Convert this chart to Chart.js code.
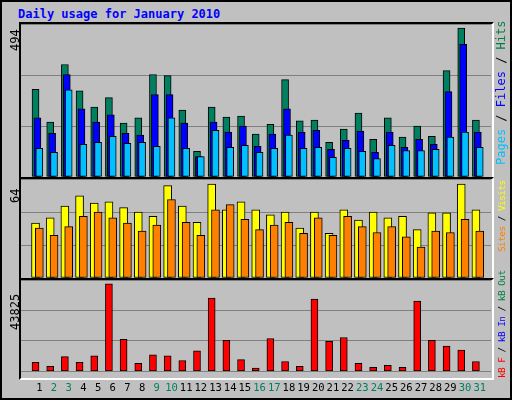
<!DOCTYPE html>
<html>
<head>
<meta charset="utf-8">
<script src="https://cdn.jsdelivr.net/npm/chart.js@4"></script>
<style>
body{margin:0;background:#c0c0c0;font-family:"DejaVu Sans Mono",monospace}
#frame{position:absolute;left:0;top:0;width:508px;height:396px;border:2px solid #000;background:#c0c0c0}
.title{position:absolute;left:18px;top:7px;color:#0000ff;font-weight:bold;font-size:12px}
.panel{position:absolute;left:20px;width:471px}
.box{position:absolute;left:19px;width:471px;border-top:2px solid #000;border-left:2px solid #000;border-right:2px solid #fff;border-bottom:2px solid #fff;pointer-events:none}
.rot{position:absolute;transform-origin:0 0;transform:rotate(-90deg);white-space:nowrap;font-size:12px}
.sm{font-size:9.5px;letter-spacing:-0.6px}
</style>
</head>
<body>
<div id="frame"></div>
<div class="title">Daily usage for January 2010</div>

<div class="panel" style="top:24px;height:153px"><canvas id="c1"></canvas></div>
<div class="panel" style="top:179px;height:99px"><canvas id="c2"></canvas></div>
<div class="panel" style="top:280px;height:118px"><canvas id="c3"></canvas></div>
<div class="box" style="top:22px;height:153px"></div>
<div class="box" style="top:177px;height:99px"></div>
<div class="box" style="top:278px;height:98px"></div>

<div class="rot" style="left:8px;top:51px">494</div>
<div class="rot" style="left:8px;top:203px">64</div>
<div class="rot" style="left:8px;top:330px">43825</div>
<div class="rot" style="left:494px;top:165px"><span style="color:#00c0ff">Pages</span> / <span style="color:#0000ff">Files</span> / <span style="color:#008040">Hits</span></div>
<div class="rot sm" style="left:496px;top:252px"><span style="color:#ff8000">Sites</span> / <span style="color:#ffff00">Visits</span></div>
<div class="rot sm" style="left:496px;top:378px"><span style="color:#ff0000">kB F</span> / <span style="color:#0000ff">kB In</span> / <span style="color:#008040">kB Out</span></div>

<script>
// daily values, January 2010
var days = [1,2,3,4,5,6,7,8,9,10,11,12,13,14,15,16,17,18,19,20,21,22,23,24,25,26,27,28,29,30,31]
var weekend = [2,3,9,10,16,17,23,24,30,31]
var hits  = [291,182,373,286,232,263,179,196,340,336,222,85,232,199,202,142,175,323,186,189,115,159,212,125,196,132,169,135,353,494,189]
var files = [196,145,340,226,182,206,145,139,273,273,179,68,182,149,169,102,142,226,149,155,92,122,152,82,149,98,125,108,283,440,149]
var pages = [95,82,289,108,115,135,112,115,102,196,95,68,155,98,105,82,95,139,95,98,65,95,85,61,105,88,88,92,132,149,98]
var visits = [37.5,41,49,56,51,52,48,45,42,63,49,38,64,46.5,52,46.5,43,45,34,45,30.5,46.5,39.5,45,41,42,33,44.5,44.5,64,46.5]
var sites = [34,29,35,42,45,41,37.5,32,36,53.5,38,29,46.5,50,40,33,36,38,30.5,41,29,42,35,31,35,28,21,32,31,40,32]
var kbytes = [4480,2560,7360,4480,7840,43825,16000,4000,8320,7840,5440,10240,36640,15520,5920,1600,16480,4960,2560,36160,15040,16960,4000,2080,3040,2080,35200,15520,12640,10720,4960]

function pts(arr, shift){
    return arr.map(function(v,i){ return {x: days[i]+shift, y: v} })
}
function bar(label, arr, shift, color, w, order){
    return {label: label, data: pts(arr, shift), backgroundColor: color, borderColor: '#000',
        borderWidth: 1, borderSkipped: false, barThickness: w, grouped: false, order: order}
}
function opts(max, showX){
    return {
        responsive: true, maintainAspectRatio: false, animation: false,
        layout: {padding: 0},
        plugins: {legend: {display: false}, tooltip: {enabled: false}},
        scales: {
            x: {type: 'linear', min: 0.2, max: 31.25, grid: {display: false}, border: {display: false},
                display: showX,
                afterBuildTicks: function(ax){ ax.ticks = days.map(function(d){ return {value: d} }) },
                ticks: {padding: 3, autoSkip: false, maxRotation: 0,
                    font: {family: 'DejaVu Sans Mono', size: 10.5},
                    color: function(ctx){ return weekend.indexOf(ctx.tick.value) >= 0 ? '#008060' : '#000' },
                    callback: function(v){ return String(v) }}},
            y: {min: 0, max: max, grid: {color: '#808080', lineWidth: 1, drawTicks: false},
                border: {display: false},
                afterBuildTicks: function(ax){ ax.ticks = [0, max/3, 2*max/3, max].map(function(v){ return {value: v} }) },
                afterFit: function(ax){ ax.width = 0 },
                ticks: {display: false}}
        }
    }
}

new Chart(document.getElementById('c1'), {
    type: 'bar',
    data: {datasets: [
        bar('Hits', hits, -0.26, '#008060', 7, 2),
        bar('Files', files, -0.13, '#0000ff', 7, 1),
        bar('Pages', pages, 0, '#00c0ff', 7, 0)
    ]},
    options: opts(494*151/147, false)
})

new Chart(document.getElementById('c2'), {
    type: 'bar',
    data: {datasets: [
        bar('Visits', visits, -0.26, '#ffff00', 8, 1),
        bar('Sites', sites, 0, '#ff8000', 8, 0)
    ]},
    options: opts(64*97/92, false)
})

new Chart(document.getElementById('c3'), {
    type: 'bar',
    data: {datasets: [
        bar('kB F', kbytes, -0.26, '#ff0000', 7, 0)
    ]},
    options: opts(43825*96/92, true)
})
</script>
</body>
</html>
